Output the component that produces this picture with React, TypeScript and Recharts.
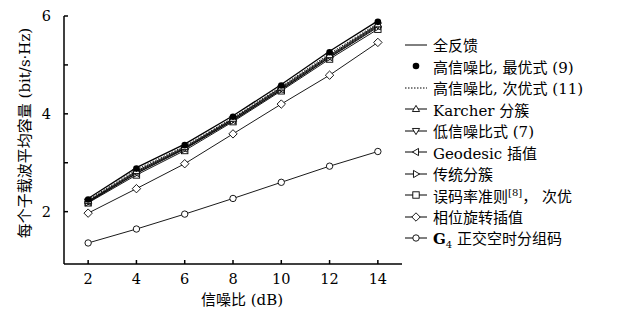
import React from 'react';
import { LineChart, Line, XAxis, YAxis, Legend } from 'recharts';

const snr = [2, 4, 6, 8, 10, 12, 14];
const fullFeedback = [2.27, 2.9, 3.38, 3.96, 4.6, 5.28, 5.9];
const highSnrOpt = [2.25, 2.88, 3.36, 3.94, 4.58, 5.26, 5.88];
const highSnrSub = [2.24, 2.86, 3.34, 3.92, 4.56, 5.23, 5.85];
const karcher = [2.22, 2.83, 3.32, 3.9, 4.54, 5.2, 5.83];
const lowSnr = [2.21, 2.81, 3.3, 3.89, 4.52, 5.18, 5.81];
const geodesic = [2.2, 2.79, 3.29, 3.87, 4.5, 5.16, 5.79];
const traditional = [2.19, 2.78, 3.28, 3.86, 4.49, 5.15, 5.77];
const berSub = [2.18, 2.75, 3.25, 3.84, 4.47, 5.12, 5.73];
const phaseRot = [1.97, 2.47, 2.98, 3.59, 4.2, 4.79, 5.46];
const g4Code = [1.36, 1.645, 1.95, 2.27, 2.6, 2.93, 3.23];

const xTicks = [2, 4, 6, 8, 10, 12, 14];
const yTicks = [2, 3, 4, 5, 6];

const FONT = "'DejaVu Serif', 'Noto Sans CJK SC', serif";

type Shape = 'none' | 'dot' | 'up' | 'down' | 'left' | 'right' | 'square' | 'diamond' | 'circle';

const series: { key: string; values: number[]; shape: Shape; line: 'solid' | 'dotted' | 'none'; label: React.ReactNode }[] = [
  { key: 'g4', values: g4Code, shape: 'circle', line: 'solid', label: <><b>G</b><sub style={{ fontSize: 10 }}>4</sub> 正交空时分组码</> },
  { key: 'phase', values: phaseRot, shape: 'diamond', line: 'solid', label: '相位旋转插值' },
  { key: 'ber', values: berSub, shape: 'square', line: 'solid', label: <>误码率准则<sup style={{ fontSize: 10 }}>[8]</sup>， 次优</> },
  { key: 'trad', values: traditional, shape: 'right', line: 'solid', label: '传统分簇' },
  { key: 'geo', values: geodesic, shape: 'left', line: 'solid', label: 'Geodesic 插值' },
  { key: 'low', values: lowSnr, shape: 'down', line: 'solid', label: '低信噪比式 (7)' },
  { key: 'karcher', values: karcher, shape: 'up', line: 'solid', label: 'Karcher 分簇' },
  { key: 'highSub', values: highSnrSub, shape: 'none', line: 'dotted', label: '高信噪比, 次优式 (11)' },
  { key: 'highOpt', values: highSnrOpt, shape: 'dot', line: 'none', label: '高信噪比, 最优式 (9)' },
  { key: 'full', values: fullFeedback, shape: 'none', line: 'solid', label: '全反馈' },
];

const data = snr.map((s, i) => {
  const row: Record<string, number> = { snr: s };
  series.forEach((sr) => { row[sr.key] = sr.values[i]; });
  return row;
});

const Marker = ({ cx, cy, shape }: { cx: number; cy: number; shape: Shape }) => {
  const r = 3.6;
  const st = { fill: '#fff', stroke: '#000', strokeWidth: 0.9 };
  switch (shape) {
    case 'dot':
      return <circle cx={cx} cy={cy} r={3.3} fill="#000" />;
    case 'circle':
      return <circle cx={cx} cy={cy} r={r - 0.4} {...st} />;
    case 'square':
      return <rect x={cx - 3.2} y={cy - 3.2} width={6.4} height={6.4} {...st} />;
    case 'diamond':
      return <polygon points={`${cx},${cy - r - 0.6} ${cx + r + 0.6},${cy} ${cx},${cy + r + 0.6} ${cx - r - 0.6},${cy}`} {...st} />;
    case 'up':
      return <polygon points={`${cx},${cy - r} ${cx + r},${cy + r * 0.7} ${cx - r},${cy + r * 0.7}`} {...st} />;
    case 'down':
      return <polygon points={`${cx},${cy + r} ${cx + r},${cy - r * 0.7} ${cx - r},${cy - r * 0.7}`} {...st} />;
    case 'left':
      return <polygon points={`${cx - r},${cy} ${cx + r * 0.7},${cy - r} ${cx + r * 0.7},${cy + r}`} {...st} />;
    case 'right':
      return <polygon points={`${cx + r},${cy} ${cx - r * 0.7},${cy - r} ${cx - r * 0.7},${cy + r}`} {...st} />;
    default:
      return null;
  }
};

const makeDot = (shape: Shape) => (props: any) => (
  <g key={`${shape}-${props.index}`}>
    <Marker cx={props.cx} cy={props.cy} shape={shape} />
  </g>
);

const LegendContent = () => (
  <div style={{ fontFamily: FONT, fontSize: 15, color: '#000' }}>
    {[...series].reverse().map((s) => (
      <div key={s.key} style={{ display: 'flex', alignItems: 'center', height: 21.5, whiteSpace: 'nowrap' }}>
        <svg width={26} height={12} style={{ marginRight: 3 }}>
          {s.line === 'solid' && <line x1={1} y1={6} x2={23} y2={6} stroke="#000" strokeWidth={1} />}
          {s.line === 'dotted' && <line x1={1} y1={6} x2={23} y2={6} stroke="#000" strokeWidth={1} strokeDasharray="1.5 1.5" />}
          <Marker cx={12} cy={6} shape={s.shape} />
        </svg>
        <span>{s.label}</span>
      </div>
    ))}
  </div>
);

export default function App() {
  return (
    <div style={{ position: 'absolute', left: 0, top: 0, background: '#fff' }}>
      <LineChart width={629} height={322} data={data} margin={{ top: 16, right: 227, left: 20, bottom: 18 }}>
        <XAxis
          dataKey="snr"
          type="number"
          domain={[1, 15]}
          ticks={xTicks}
          allowDataOverflow
          height={40}
          tickSize={-4}
          tickMargin={14}
          stroke="#000"
          tick={{ fill: '#000', fontSize: 14.5, fontFamily: FONT }}
          axisLine={{ stroke: '#000', strokeWidth: 1.5 }}
          tickLine={{ stroke: '#000', strokeWidth: 1.5 }}
          label={(p: any) => {
            const vb = p.viewBox;
            return (
              <text x={vb.x + vb.width / 2 + 9} y={vb.y + 41} textAnchor="middle" fontSize={15} fontFamily={FONT} fill="#000">
                信噪比 (dB)
              </text>
            );
          }}
        />
        <YAxis
          type="number"
          domain={[0.93, 6]}
          ticks={yTicks}
          allowDataOverflow
          width={44}
          tickSize={-4}
          tickMargin={17}
          stroke="#000"
          tickFormatter={(v: number) => (v % 2 === 0 ? String(v) : '')}
          tick={{ fill: '#000', fontSize: 14.5, fontFamily: FONT }}
          axisLine={{ stroke: '#000', strokeWidth: 1.5 }}
          tickLine={{ stroke: '#000', strokeWidth: 1.5 }}
          label={(p: any) => {
            const vb = p.viewBox;
            const cx = vb.x + 5;
            const cy = vb.y + vb.height / 2 - 7;
            return (
              <text x={cx} y={cy} transform={`rotate(-90 ${cx} ${cy})`} textAnchor="middle" dominantBaseline="central" fontSize={15} fontFamily={FONT} fill="#000">
                每个子载波平均容量 (bit/s·Hz)
              </text>
            );
          }}
        />
        <Legend
          layout="vertical"
          align="center"
          verticalAlign="middle"
          content={LegendContent}
          wrapperStyle={{ left: 404, top: 34, width: 225 }}
        />
        {series.map((s) => (
          <Line
            key={s.key}
            dataKey={s.key}
            type="linear"
            stroke={s.line === 'none' ? 'none' : '#000'}
            strokeWidth={s.key === 'full' ? 1.3 : 0.9}
            strokeDasharray={s.line === 'dotted' ? '1.5 1.5' : undefined}
            dot={s.shape === 'none' ? false : makeDot(s.shape)}
            activeDot={false}
            isAnimationActive={false}
          />
        ))}
      </LineChart>
    </div>
  );
}
